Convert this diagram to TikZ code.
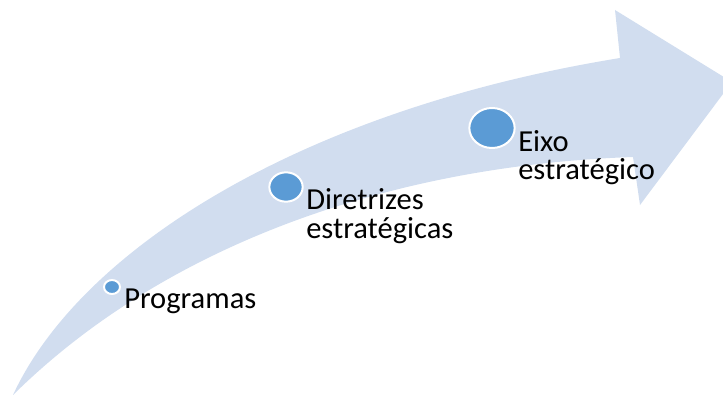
\documentclass[tikz,border=0pt]{standalone}
\usepackage{fontspec}
\setmainfont{Carlito}
\usetikzlibrary{shapes.geometric}

\definecolor{bandblue}{RGB}{209,221,239}
\definecolor{dotblue}{RGB}{91,155,213}

\tikzset{
  stagedot/.style={ellipse, fill=dotblue, draw=white, line width=1.5pt, inner sep=0pt},
  stagelabel/.style={anchor=base west, inner sep=0pt, align=left,
    font=\fontsize{22.9}{21}\selectfont}
}

\begin{document}
\begin{tikzpicture}[x=0.75pt, y=-0.75pt]
        % Frame of the picture
        \clip (0,0) rectangle (723,395);

        % Curved arrow in the background
        \fill[bandblue] (13,395) .. controls (80,250) and (300,110) .. (620,58)
            -- (615,10) -- (732,82) -- (640,205) -- (633,157)
            .. controls (400,165) and (170,240) .. (13,395) -- cycle;

        % Stages along the arrow (label base = last line)
        \node[stagedot, minimum width=12pt, minimum height=10.5pt] (prog) at (112,287) {};
        \node[stagelabel] (proglabel) at (124,308) {Programas};

        \node[stagedot, minimum width=25pt, minimum height=22pt] (dir) at (286,187) {};
        \node[stagelabel] (dirlabel) at (306,238) {Diretrizes\\estratégicas};

        \node[stagedot, minimum width=34pt, minimum height=30pt] (eixo) at (492,128) {};
        \node[stagelabel] (eixolabel) at (518,180) {Eixo\\estratégico};
\end{tikzpicture}
\end{document}
